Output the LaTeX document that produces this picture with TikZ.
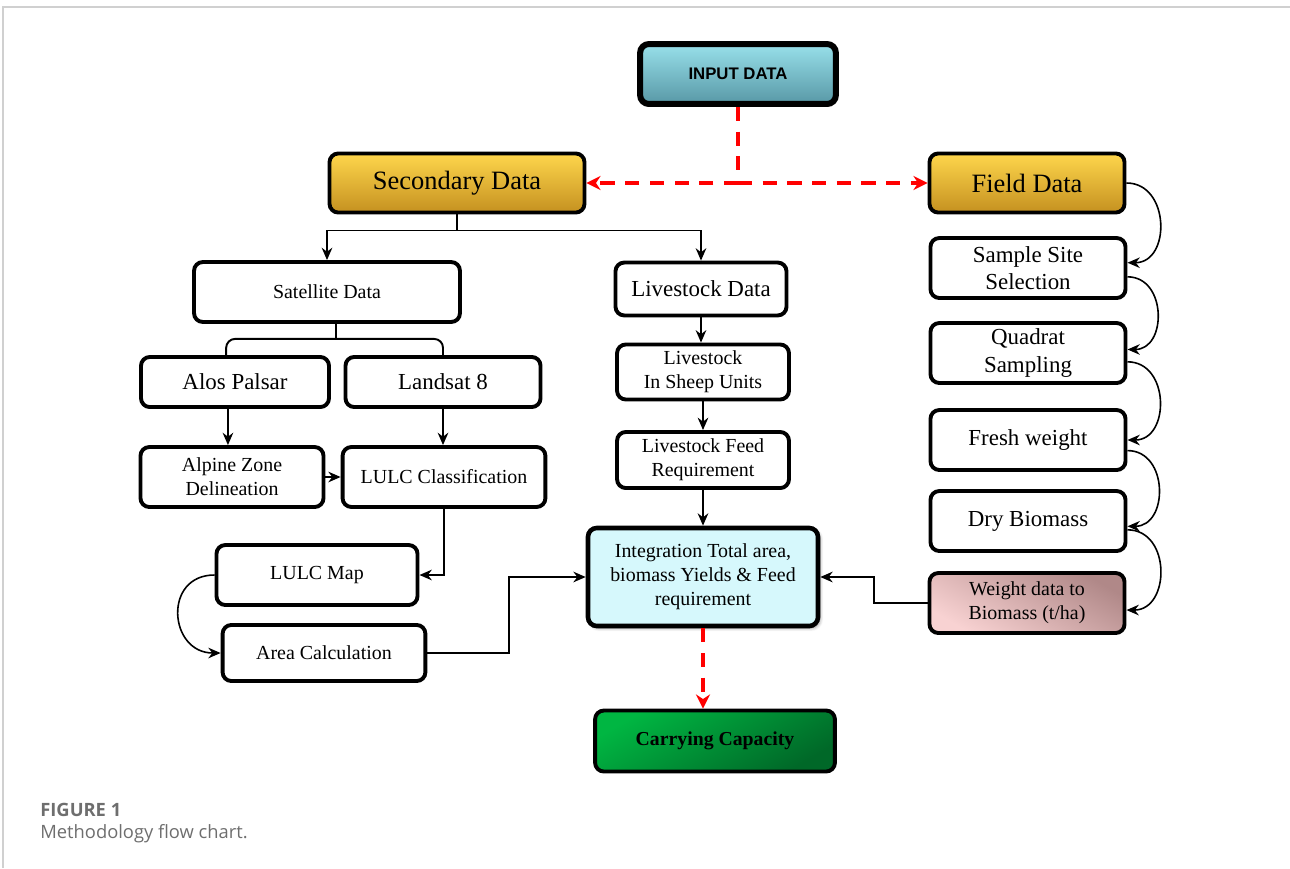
\documentclass[tikz,border=0pt]{standalone}
\usepackage{fontspec}
\setmainfont{Liberation Serif}
\setsansfont{Liberation Sans}
\newfontfamily\captionfont{Open Sans}
\usepackage{tikz}
\usetikzlibrary{arrows.meta, positioning, calc, shadows.blur}
\definecolor{inputtop}{RGB}{152, 224, 234}
\definecolor{inputbottom}{RGB}{88, 152, 166}
\definecolor{goldtop}{RGB}{255, 214, 76}
\definecolor{goldbottom}{RGB}{196, 145, 32}
\definecolor{pinklight}{RGB}{248, 210, 210}
\definecolor{pinkdark}{RGB}{176, 136, 136}
\definecolor{greenlight}{RGB}{0, 182, 66}
\definecolor{greendark}{RGB}{0, 104, 40}
\definecolor{integfill}{RGB}{214, 248, 252}
\definecolor{framegray}{RGB}{208, 208, 208}
\definecolor{captiongray}{RGB}{110, 110, 110}
\tikzset{
    box/.style={rectangle, rounded corners=5pt, draw=black, line width=2.2pt, fill=white, align=center, inner sep=2pt, font=\fontsize{11.3}{13.6}\selectfont},
    bigbox/.style={box, font=\fontsize{13}{15.6}\selectfont},
    headbox/.style={box, top color=goldtop, bottom color=goldbottom, minimum height=33.5pt, font=\fontsize{15}{18}\selectfont},
    fieldbox/.style={bigbox, minimum width=110.6pt, minimum height=34pt},
    line/.style={line width=1.1pt},
    arrow/.style={line width=1.1pt, -{Stealth[length=7pt,width=6pt]}},
    curvearrow/.style={line width=0.9pt, -{Stealth[length=7pt,width=6pt]}},
    reddash/.style={line width=1.8pt, red, dash pattern=on 8pt off 6pt},
    redarrow/.style={reddash, -{Stealth[length=8pt,width=8pt]}}
}
\begin{document}
\begin{tikzpicture}[x=0.567pt, y=-0.567pt]
        \useasboundingbox (0,0) rectangle (1290,868);
        % Page frame
        \draw[framegray, line width=1pt] (3,868) -- (3,7) -- (1290,7);

        % Input
        \node[box, line width=3.4pt, minimum width=111pt, minimum height=34pt, top color=inputtop, bottom color=inputbottom, font=\sffamily\bfseries\fontsize{9.5}{11}\selectfont] (input) at (738,74) {INPUT DATA};

        % Main branches
        \node[headbox, minimum width=144.6pt] (sec) at (457,183) {Secondary Data};
        \node[headbox, minimum width=110.6pt] (field) at (1027,183) {Field Data};

        % Secondary data side
        \node[box, minimum width=150.8pt, minimum height=34pt] (sat) at (327,292) {Satellite Data};
        \node[bigbox, minimum width=97pt, minimum height=30pt] (live) at (701,289) {Livestock Data};
        \node[bigbox, minimum width=106.6pt, minimum height=28.4pt] (alos) at (235,382) {Alos Palsar};
        \node[bigbox, minimum width=110.6pt, minimum height=28.4pt] (land) at (443,382) {Landsat 8};
        \node[box, minimum width=103.8pt, minimum height=34pt] (alpine) at (232,477) {Alpine Zone\\Delineation};
        \node[box, minimum width=115pt, minimum height=34pt] (lulc) at (444,477) {LULC Classification};
        \node[box, minimum width=114pt, minimum height=34pt] (map) at (317,575) {LULC Map};
        \node[box, minimum width=115pt, minimum height=31.8pt] (area) at (324,653) {Area Calculation};

        % Livestock chain
        \node[box, minimum width=97.5pt, minimum height=31.2pt] (sheep) at (703,372) {Livestock\\In Sheep Units};
        \node[box, minimum width=97.5pt, minimum height=31.8pt] (feed) at (703,460) {Livestock Feed\\Requirement};

        % Integration and result
        \node[box, line width=2.6pt, minimum width=130.4pt, minimum height=55.6pt, fill=integfill, blur shadow={shadow blur steps=6, shadow xshift=1.2pt, shadow yshift=-1.2pt}] (integ) at (703,577) {Integration Total area,\\biomass Yields \& Feed\\requirement};
        \node[box, minimum width=136pt, minimum height=34.6pt, top color=greenlight, bottom color=greendark, shading angle=30, font=\bfseries\fontsize{11.2}{13}\selectfont] (carry) at (715,741) {Carrying Capacity};

        % Field data chain
        \node[fieldbox] (sample) at (1028,268) {Sample Site\\Selection};
        \node[fieldbox] (quad) at (1028,353) {Quadrat\\Sampling};
        \node[fieldbox] (fresh) at (1028,440) {Fresh weight};
        \node[fieldbox] (dry) at (1028,521) {Dry Biomass};
        \node[box, minimum width=110.6pt, minimum height=34pt, top color=pinkdark, bottom color=pinklight, shading angle=-30] (weight) at (1027,603) {Weight data to\\Biomass (t/ha)};

        % Red dashed links
        \coordinate (hub) at (input.south |- sec.east);
        \draw[reddash] (input.south) -- (hub);
        \draw[redarrow] (hub) -- (sec.east);
        \draw[redarrow] (hub) -- (field.west);
        \draw[redarrow] (integ.south) -- (integ.south |- carry.north);

        % Secondary split
        \coordinate (split) at ($(sec.south)+(0,16)$);
        \draw[line] (sec.south) -- (split);
        \draw[arrow] (split) -| (sat.north);
        \draw[arrow] (split) -| (live.north);

        % Satellite split
        \coordinate (fork) at ($(sat.south)+(9,15)$);
        \draw[line] ($(sat.south)+(9,0)$) -- (fork);
        \draw[line, rounded corners=5pt] ([xshift=-5pt]alos.north) |- (fork) -| (land.north);

        % Satellite processing
        \draw[arrow] ([xshift=-4pt]alos.south) -- ([xshift=-4pt]alos.south |- alpine.north);
        \draw[arrow] (land.south) -- (land.south |- lulc.north);
        \draw[arrow] (alpine.east) -- (lulc.west);
        \draw[arrow] (lulc.south) |- (map.east);
        \draw[curvearrow] (map.west) to[out=180, in=180, looseness=1.7] (area.west);
        \draw[arrow] (area.east) -- ++(82,0) |- (integ.west);

        % Livestock arrows
        \draw[arrow] (live.south) -- (live.south |- sheep.north);
        \draw[arrow] (sheep.south) -- (feed.north);
        \draw[arrow] (feed.south) -- (feed.south |- integ.north);

        % Field data curves
        \draw[curvearrow] (field.east) to[out=0, in=0, looseness=1.4] ([yshift=3pt]sample.east);
        \draw[curvearrow] ([yshift=-5pt]sample.east) to[out=0, in=0, looseness=1.4] ([yshift=2pt]quad.east);
        \draw[curvearrow] ([yshift=-5pt]quad.east) to[out=0, in=0, looseness=1.4] (fresh.east);
        \draw[curvearrow] ([yshift=-6pt]fresh.east) to[out=0, in=0, looseness=1.4] ([yshift=-3pt]dry.east);
        \draw[curvearrow] ([yshift=-5pt]dry.east) to[out=0, in=0, looseness=1.4] ([yshift=-4pt]weight.east);
        \draw[arrow] (weight.west) -- ++(-54,0) |- (integ.east);

        % Caption
        \node[anchor=west, inner sep=0, text=captiongray, font=\captionfont\bfseries\fontsize{10.4}{12}\selectfont] (figlabel) at (40,810) {FIGURE 1};
        \node[anchor=west, inner sep=0, text=captiongray, font=\captionfont\fontsize{10.4}{12}\selectfont] (figtext) at (40,834) {Methodology flow chart.};
    \end{tikzpicture}
\end{document}
